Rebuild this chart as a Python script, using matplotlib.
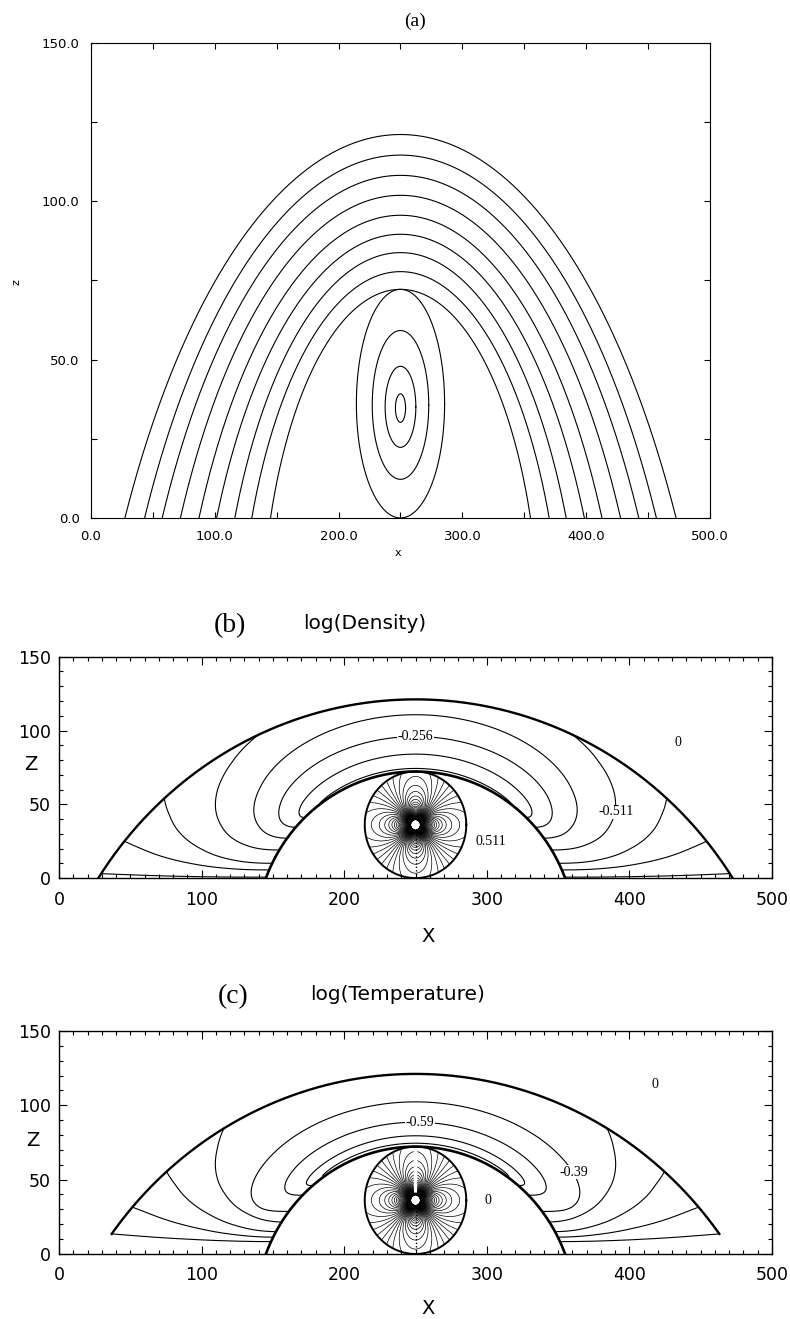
import numpy as np
import matplotlib.pyplot as plt

# ---------------- values ----------------
x_mid = 250.0
# (a) arcade field lines: left footpoint and apex height, outer -> inner
arch_foot = [27.6, 43.5, 57.7, 72.4, 87.4, 101.6, 116.3, 130.0, 145.1]
arch_apex = [121.1, 114.6, 108.2, 101.9, 95.6, 89.6, 83.8, 77.8, 72.2]
# (a) flux rope loops: half width, half height, centre height
rope_hw = [35.6, 22.8, 12.4, 4.1]
rope_hh = [36.1, 23.5, 12.8, 4.5]
rope_zc = [36.1, 35.7, 35.1, 34.7]

# (b) log(Density): lines over the top (apex height, height at the inner loop)
dens_top_apex = [74.3, 84.0, 95.9, 110.7]
dens_top_base = [50.0, 41.0, 34.4, 27.0]
# lines from outer loop to inner loop (height at outer loop, at inner loop)
dens_side_out = [97.0, 54.0, 25.0, 3.0]
dens_side_in = [19.0, 10.0, 5.5, 0.6]
dens_text = ['-0.256', '-0.511', '0', '0.511']

# (c) log(Temperature)
temp_top_apex = [74.5, 79.5, 88.6, 102.3]
temp_top_base = [52.0, 46.0, 39.5, 28.6]
temp_side_out = [84.5, 55.4, 31.5]
temp_side_in = [21.5, 15.0, 11.3]
temp_bottom = [13.5, 8.3]   # lower edge of the plotted region: outer, inner
temp_text = ['-0.59', '-0.39', '0', '0']

# ---------------- geometry of the arcade ----------------
s_grid = np.linspace(0, 1, len(arch_foot))          # 0 = inner loop, 1 = outer loop
half_w = (x_mid - np.array(arch_foot))[::-1]
apex = np.array(arch_apex)[::-1]


def arch(s):
    w = np.interp(s, s_grid, half_w)
    h = np.interp(s, s_grid, apex)
    R = (w * w + h * h) / (2 * h)
    return R, h - R


def arc_xy(w, h, zmin=0.0, n=500):
    R = (w * w + h * h) / (2 * h)
    zc = h - R
    p0 = np.arccos((zmin - zc) / R)
    p = np.linspace(-p0, p0, n)
    return x_mid + R * np.sin(p), zc + R * np.cos(p)


def offset(s, z):
    R, zc = arch(s)
    return np.sqrt(np.clip(R * R - (z - zc) ** 2, 0, None))


def crossing(s_top, z_top, z_in, r):
    t = np.linspace(0, 1, 400)
    s = s_top * (1 - (1 - t) ** 2)
    z = z_in + (z_top - z_in) * (s / s_top) ** r
    return z, offset(s, z)


def draw_arcade(ax, top_apex, top_base, side_out, side_in, r_top, r_side, zmin=0.0):
    for a, b in zip(top_apex, top_base):
        s_top = np.interp(a, apex, s_grid)
        z, d = crossing(s_top, a, b, r_top)
        ax.plot(np.r_[x_mid - d, (x_mid + d)[::-1]], np.r_[z, z[::-1]], 'k', lw=0.8)
    for a, b in zip(side_out, side_in):
        z, d = crossing(1.0, a, b, r_side)
        ax.plot(x_mid - d, z, 'k', lw=0.8)
        ax.plot(x_mid + d, z, 'k', lw=0.8)
    xo, zo = arc_xy(half_w[-1], apex[-1], zmin)
    ax.plot(xo, zo, 'k', lw=1.7)
    xi, zi = arc_xy(half_w[0], apex[0])
    ax.plot(xi, zi, 'k', lw=1.9)


def draw_rope(ax, slit=False):
    rx, rz, zr = rope_hw[0], rope_hh[0], rope_zc[0]
    xx, zz = np.meshgrid(np.linspace(x_mid - rx - 1, x_mid + rx + 1, 700),
                         np.linspace(0, 2 * zr + 1, 700))
    u = (xx - x_mid) / rx
    v = (zz - zr) / rz
    r = np.hypot(u, v)
    th = np.arctan2(v, u)
    f = np.cos(2 * th) / np.maximum(r, 1e-3)
    f = np.where((r <= 1) & (r > 0.09), f, np.nan)
    if slit:
        f = np.where((np.abs(xx - x_mid) < 1.2) & (zz > zr + 5), np.nan, f)
    ax.contour(xx, zz, f, levels=np.arange(-10.1, 10.2, 0.25), colors='k',
               linewidths=0.5, linestyles='solid')
    t = np.linspace(0, 2 * np.pi, 300)
    ax.plot(x_mid + rx * np.cos(t), zr + rz * np.sin(t), 'k', lw=1.4)
    ax.plot([x_mid, x_mid], [0, zr - 0.09 * rz], 'k', ls=(0, (1, 1.5)), lw=1.0)


def style_bc(ax):
    ax.set_xlim(0, 500)
    ax.set_ylim(0, 150)
    ax.set_xticks(np.arange(0, 501, 100))
    ax.set_xticks(np.arange(0, 501, 10), minor=True)
    ax.set_yticks(np.arange(0, 151, 50))
    ax.set_yticks(np.arange(0, 151, 10), minor=True)
    ax.tick_params(which='both', direction='in', top=True, right=True, width=0.8)
    ax.tick_params(which='major', length=6, labelsize=12.5)
    ax.tick_params(which='minor', length=3)
    ax.tick_params(axis='x', pad=9)
    ax.tick_params(axis='y', pad=6)
    for sp in ax.spines.values():
        sp.set_linewidth(1.0)


serif = ['Liberation Serif', 'DejaVu Serif']
lbl = dict(ha='center', va='center', family=serif, fontsize=10)
wbox = dict(fc='white', ec='none', pad=0.3)

fig = plt.figure(figsize=(7.9, 13.19), dpi=100)

# ---------------- (a) ----------------
ax = fig.add_axes([0.1148, 0.6073, 0.7843, 0.3601])
for f, h in zip(arch_foot, arch_apex):
    xa, za = arc_xy(x_mid - f, h)
    ax.plot(xa, za, 'k', lw=0.8)
t = np.linspace(0, 2 * np.pi, 300)
for hw, hh, zc in zip(rope_hw, rope_hh, rope_zc):
    ax.plot(x_mid + hw * np.cos(t), zc + hh * np.sin(t), 'k', lw=0.8)
ax.set_xlim(0, 500)
ax.set_ylim(0, 150)
ax.set_xticks(np.arange(0, 501, 100))
ax.set_xticklabels(['%.1f' % v for v in np.arange(0, 501, 100)])
ax.set_xticks(np.arange(0, 501, 50), minor=True)
ax.set_yticks(np.arange(0, 151, 50))
ax.set_yticklabels(['%.1f' % v for v in np.arange(0, 151, 50)])
ax.set_yticks(np.arange(0, 151, 25), minor=True)
ax.tick_params(which='both', direction='in', top=True, right=True, length=4, width=0.8,
               labelsize=9.5)
ax.tick_params(axis='x', pad=9)
ax.tick_params(axis='y', pad=8)
fig.text(415 / 790, 1 - 21 / 1319, '(a)', family=serif, fontsize=14, ha='center', va='center')
fig.text(398 / 790, 1 - 553 / 1319, 'x', fontsize=8, ha='center', va='center')
fig.text(17 / 790, 1 - 282 / 1319, 'z', fontsize=8, ha='center', va='center', rotation=90)

# ---------------- (b) ----------------
ax = fig.add_axes([0.0747, 0.3343, 0.9025, 0.1678])
draw_arcade(ax, dens_top_apex, dens_top_base, dens_side_out, dens_side_in, 2.0, 2.2)
draw_rope(ax)
style_bc(ax)
ax.text(x_mid, dens_top_apex[2], dens_text[0], bbox=wbox, **lbl)
ax.text(391, 45, dens_text[1], bbox=wbox, **lbl)
ax.text(434, 92, dens_text[2], **lbl)
ax.text(303, 25, dens_text[3], **lbl)
fig.text(230 / 790, 1 - 626 / 1319, '(b)', family=serif, fontsize=20, ha='center', va='center')
fig.text(365 / 790, 1 - 624 / 1319, 'log(Density)', fontsize=14.5, ha='center', va='center')
fig.text(428 / 790, 1 - 937 / 1319, 'X', fontsize=14, ha='center', va='center')
fig.text(31 / 790, 1 - 765 / 1319, 'Z', fontsize=14, ha='center', va='center')

# ---------------- (c) ----------------
ax = fig.add_axes([0.0747, 0.0493, 0.9025, 0.1691])
draw_arcade(ax, temp_top_apex, temp_top_base, temp_side_out, temp_side_in, 3.0, 1.8,
            zmin=temp_bottom[0])
z, d = crossing(1.0, temp_bottom[0], temp_bottom[1], 1.8)
ax.plot(x_mid - d, z, 'k', lw=0.8)
ax.plot(x_mid + d, z, 'k', lw=0.8)
draw_rope(ax, slit=True)
style_bc(ax)
ax.text(x_mid + 3, temp_top_apex[2], temp_text[0], bbox=wbox, **lbl)
ax.text(361, 55, temp_text[1], bbox=wbox, **lbl)
ax.text(418, 114, temp_text[2], **lbl)
ax.text(301, 36, temp_text[3], **lbl)
fig.text(233 / 790, 1 - 997 / 1319, '(c)', family=serif, fontsize=20, ha='center', va='center')
fig.text(398 / 790, 1 - 995 / 1319, 'log(Temperature)', fontsize=14.5, ha='center', va='center')
fig.text(428 / 790, 1 - 1308 / 1319, 'X', fontsize=14, ha='center', va='center')
fig.text(33 / 790, 1 - 1140 / 1319, 'Z', fontsize=14, ha='center', va='center')

fig.savefig('out.png', dpi=100)
